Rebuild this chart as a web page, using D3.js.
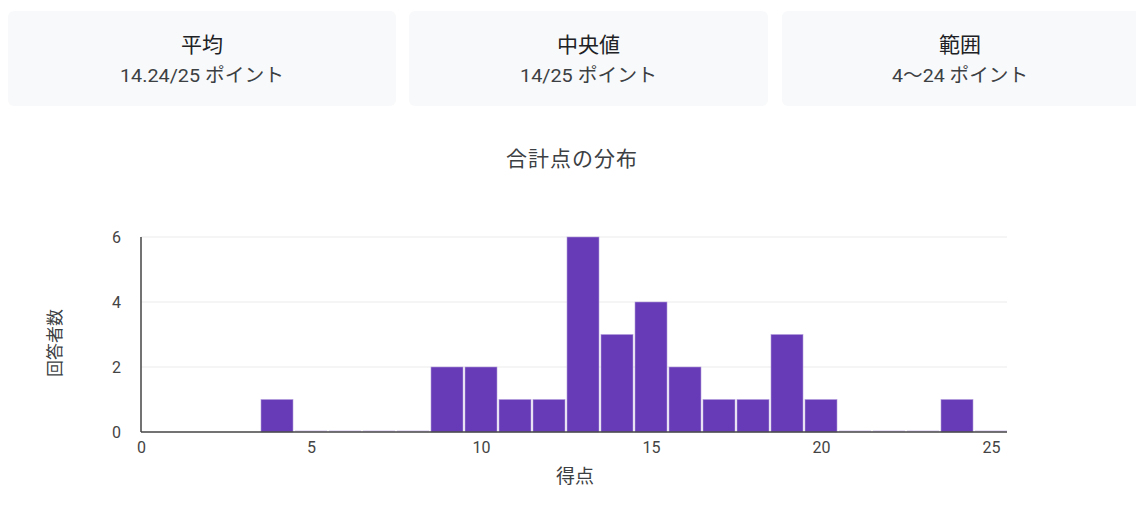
<!DOCTYPE html>
<html><head><meta charset="utf-8">
<script src="https://cdn.jsdelivr.net/npm/d3@7"></script>
<style>
html,body{margin:0;padding:0;background:#fff;}
svg{display:block;font-family:Roboto,"Noto Sans CJK JP",sans-serif;}
</style></head>
<body><svg id="c" width="1136" height="521"></svg>
<script>
const cardLabels = ["平均", "中央値", "範囲"];
const cardValues = ["14.24/25 ポイント", "14/25 ポイント", "4〜24 ポイント"];
const scores = [4,5,6,7,8,9,10,11,12,13,14,15,16,17,18,19,20,21,22,23,24,25];
const counts = [1,0,0,0,0,2,2,1,1,6,3,4,2,1,1,3,1,0,0,0,1,0];
const xTicks = [0,5,10,15,20,25];
const yTicks = [0,2,4,6];
const title = "合計点の分布";
const xLabel = "得点";
const yLabel = "回答者数";

const svg = d3.select("#c");

// cards
const cards = [{x0:8,x1:396,cx:202,vw:164},{x0:409,x1:768,cx:588.5,vw:137},{x0:782,x1:1142,cx:960,vw:136}];
cards.forEach((c,i)=>{
  svg.append("rect").attr("x",c.x0).attr("y",11).attr("width",c.x1-c.x0).attr("height",95)
    .attr("rx",6).attr("fill","#f8f9fa");
  svg.append("text").attr("x",c.cx).attr("y",52).attr("text-anchor","middle")
    .attr("font-size",21).attr("fill","#202124").text(cardLabels[i]);
  svg.append("text").attr("x",c.cx).attr("y",82).attr("text-anchor","middle")
    .attr("font-size",19).attr("fill","#3c4043")
    .attr("textLength",c.vw).attr("lengthAdjust","spacingAndGlyphs").text(cardValues[i]);
});

svg.append("text").attr("x",572).attr("y",166).attr("text-anchor","middle")
  .attr("font-size",21).attr("letter-spacing",1).attr("fill","#3c4043").text(title);

const x = d3.scaleLinear().domain([0,25]).range([141,991]);
const y = d3.scaleLinear().domain([0,6]).range([432,237]);

// gridlines
svg.append("g").selectAll("line").data(yTicks.filter(d=>d>0)).join("line")
  .attr("x1",141).attr("x2",1007).attr("y1",d=>y(d)).attr("y2",d=>y(d))
  .attr("stroke","#ebebeb").attr("stroke-width",1);

// bars
const bw = x(1)-x(0);
svg.append("g").selectAll("rect").data(scores.map((s,i)=>({s,c:counts[i]}))).join("rect")
  .attr("x",d=>x(d.s-0.5)+1).attr("width",bw-2)
  .attr("y",d=>d.c>0 ? y(d.c) : y(0)-2)
  .attr("height",d=>d.c>0 ? y(0)-y(d.c) : 2)
  .attr("fill",d=>d.c>0 ? "#673ab7" : "#e8e0f5")
  .attr("stroke",d=>d.c>0 ? "#b39ddb" : "none").attr("stroke-width",0.6);

// y axis
const ya = svg.append("g").attr("transform","translate(141,0)")
  .call(d3.axisLeft(y).tickValues(yTicks).tickSize(0).tickPadding(20).tickFormat(d3.format("d")));
ya.select(".domain").remove();
ya.selectAll("text").attr("font-size",16).attr("fill","#444").attr("font-family","Roboto,sans-serif");
svg.append("line").attr("x1",141).attr("x2",141).attr("y1",237).attr("y2",432)
  .attr("stroke","#444").attr("stroke-width",1.5);

// x axis
const xa = svg.append("g").attr("transform","translate(0,432)")
  .call(d3.axisBottom(x).tickValues(xTicks).tickSize(0).tickPadding(10).tickFormat(d3.format("d")));
xa.select(".domain").remove();
xa.selectAll("text").attr("font-size",16).attr("fill","#444").attr("font-family","Roboto,sans-serif");
svg.append("line").attr("x1",141).attr("x2",1007).attr("y1",432).attr("y2",432)
  .attr("stroke","#444").attr("stroke-width",1.5);

svg.append("text").attr("x",575).attr("y",483).attr("text-anchor","middle")
  .attr("font-size",19).attr("fill","#3c4043").text(xLabel);
svg.append("text").attr("transform","translate(61,343) rotate(-90)").attr("text-anchor","middle")
  .attr("font-size",17).attr("fill","#3c4043").text(yLabel);
</script></body></html>
